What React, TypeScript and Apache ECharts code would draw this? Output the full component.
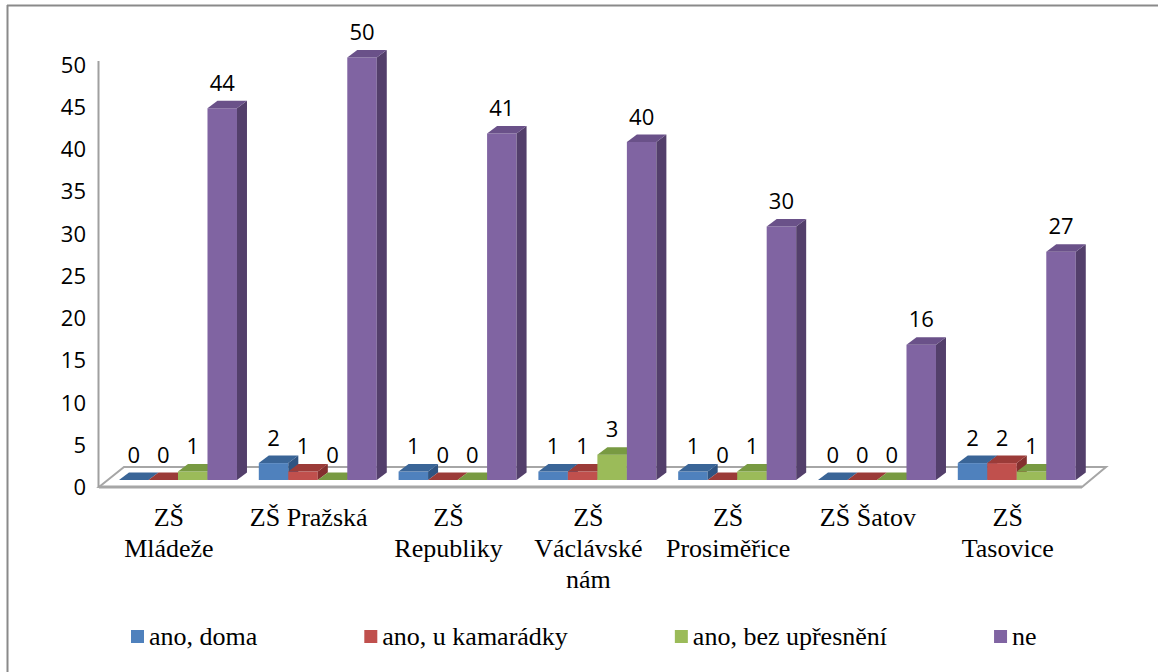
import React, { useEffect, useRef } from "react";
import * as echarts from "echarts";

// ---- data ----
const categories = [
  "ZŠ\nMládeže",
  "ZŠ Pražská",
  "ZŠ\nRepubliky",
  "ZŠ\nVáclávské\nnám",
  "ZŠ\nProsiměřice",
  "ZŠ Šatov",
  "ZŠ\nTasovice",
];
const seriesNames = ["ano, doma", "ano, u kamarádky", "ano, bez upřesnění", "ne"];
const anoDoma = [0, 2, 1, 1, 1, 0, 2];
const anoUKamaradky = [0, 1, 0, 1, 0, 0, 2];
const anoBezUpresneni = [1, 0, 0, 3, 1, 0, 1];
const ne = [44, 50, 41, 40, 30, 16, 27];
const yMin = 0;
const yMax = 50;
const yInterval = 5;

// ---- styles ----
const faceColors = [
  { front: "#4F81BD", top: "#3A6597", side: "#2F5482" },
  { front: "#C0504D", top: "#9B3B38", side: "#84302E" },
  { front: "#9BBB59", top: "#789A42", side: "#647F36" },
  { front: "#8064A2", top: "#6A5189", side: "#533F6B" },
];

const GRID_LEFT = 99;
const GRID_TOP = 57.5;
const GRID_W = 978.6;
const GRID_H = 422.5;
const BASE_Y = GRID_TOP + GRID_H;

const serifFont = "Liberation Serif";
const sansFont = "Open Sans";

export default function App() {
  const ref = useRef<HTMLDivElement>(null);

  useEffect(() => {
    if (!ref.current) return;
    const chart = echarts.init(ref.current, undefined, { renderer: "svg" });
    const allValues = [anoDoma, anoUKamaradky, anoBezUpresneni, ne];

    const makeRender = (si: number) => (params: any, api: any) => {
      const cat = api.value(0);
      const v = api.value(1);
      const p0 = api.coord([cat, 0]);
      const p1 = api.coord([cat, v]);
      const band = api.size([1, 0])[0];
      const barW = band * 0.211;
      const dx = band * 0.0715;
      const dy = -7.5;
      const left = p0[0] - band * 0.357 + si * barW;
      const top = p1[1];
      const bottom = p0[1];
      const c = faceColors[si];
      return {
        type: "group",
        children: [
          {
            type: "rect",
            shape: { x: left, y: top, width: barW, height: bottom - top },
            style: { fill: c.front },
          },
          {
            type: "polygon",
            shape: {
              points: [
                [left + barW, top],
                [left + barW + dx, top + dy],
                [left + barW + dx, bottom + dy],
                [left + barW, bottom],
              ],
            },
            style: { fill: c.side },
          },
          {
            type: "polygon",
            shape: {
              points: [
                [left, top],
                [left + dx, top + dy],
                [left + barW + dx, top + dy],
                [left + barW, top],
              ],
            },
            style: { fill: c.top },
          },
          {
            type: "text",
            style: {
              text: String(v),
              x: left + barW / 2,
              y: top - 26.5,
              align: "center",
              verticalAlign: "middle",
              fill: "#000",
              fontSize: 22,
              fontFamily: sansFont,
            },
          },
        ],
      };
    };

    const floorFrontY = BASE_Y + 7;
    const floorBackY = BASE_Y - 13;
    const floorRight = GRID_LEFT + 983;

    chart.setOption({
      animation: false,
      backgroundColor: "#fff",
      grid: { left: GRID_LEFT, top: GRID_TOP, width: GRID_W, height: GRID_H },
      xAxis: {
        type: "category",
        data: categories,
        axisLine: { show: false },
        axisTick: { show: false },
        axisLabel: {
          interval: 0,
          margin: 22,
          color: "#000",
          fontFamily: serifFont,
          fontSize: 26,
          lineHeight: 31,
        },
      },
      yAxis: {
        type: "value",
        min: yMin,
        max: yMax,
        interval: yInterval,
        axisLine: { show: false },
        axisTick: { show: false },
        splitLine: { show: false },
        axisLabel: {
          margin: 13,
          align: "right",
          color: "#000",
          fontFamily: sansFont,
          fontSize: 22,
          verticalAlign: "top",
          lineHeight: 12,
        },
      },
      legend: {
        left: 126,
        top: 618.5,
        itemWidth: 13,
        itemHeight: 13,
        itemGap: 107,
        icon: "rect",
        data: seriesNames,
        textStyle: { fontFamily: serifFont, fontSize: 26, color: "#000" },
      },
      graphic: [
        {
          type: "line",
          z: -10,
          shape: { x1: 7, y1: 5.5, x2: 1158, y2: 5.5 },
          style: { stroke: "#8a8a8a", lineWidth: 2 },
        },
        {
          type: "line",
          z: -10,
          shape: { x1: 7.5, y1: 5, x2: 7.5, y2: 672 },
          style: { stroke: "#8a8a8a", lineWidth: 2 },
        },
        {
          type: "polygon",
          z: -5,
          shape: {
            points: [
              [GRID_LEFT, floorFrontY],
              [GRID_LEFT + 25, floorBackY],
              [floorRight + 24, floorBackY],
              [floorRight, floorFrontY],
            ],
          },
          style: { fill: "#fff", stroke: "#a6a6a6", lineWidth: 2 },
        },
        {
          type: "line",
          z: -4,
          shape: { x1: GRID_LEFT, y1: floorFrontY, x2: floorRight, y2: floorFrontY },
          style: { stroke: "#a6a6a6", lineWidth: 3 },
        },
        {
          type: "line",
          z: -4,
          shape: { x1: GRID_LEFT - 0.5, y1: 61, x2: GRID_LEFT - 0.5, y2: floorFrontY },
          style: { stroke: "#a0a0a0", lineWidth: 2 },
        },
      ],
      series: seriesNames.map((name, si) => ({
        name,
        type: "custom",
        itemStyle: { color: faceColors[si].front },
        encode: { x: 0, y: 1 },
        data: allValues[si].map((v, i) => [i, v]),
        renderItem: makeRender(si),
      })),
    });

    return () => chart.dispose();
  }, []);

  return (
    <div
      ref={ref}
      style={{ position: "absolute", left: 0, top: 0, width: 1158, height: 672 }}
    />
  );
}
